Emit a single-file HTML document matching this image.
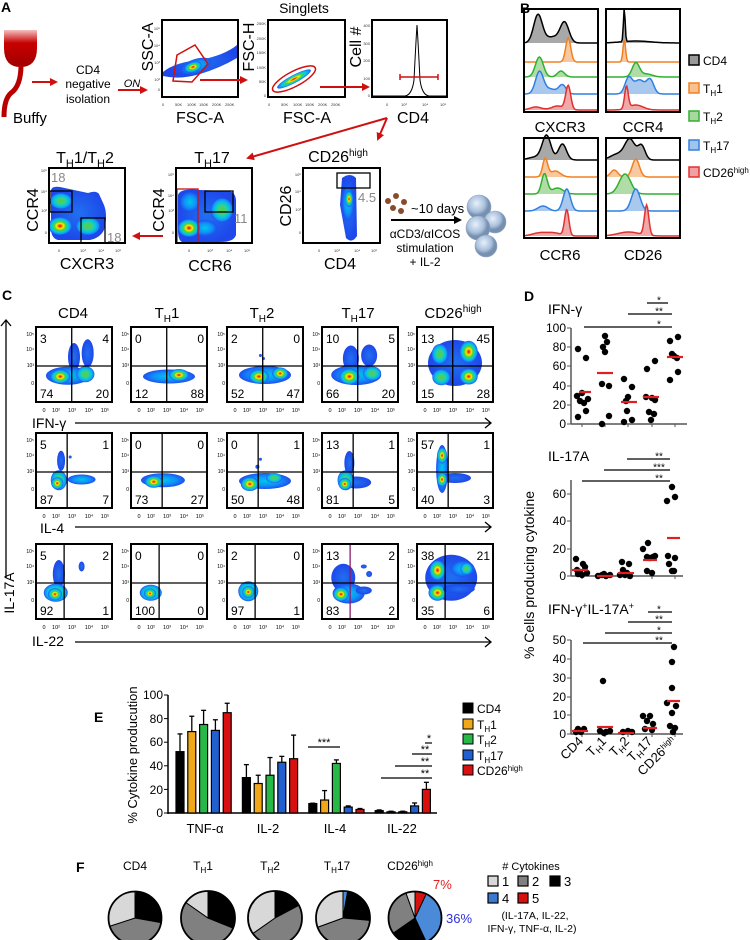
<!DOCTYPE html>
<html><head><meta charset="utf-8">
<style>
html,body{margin:0;padding:0;background:#fff;}
svg{display:block;font-family:"Liberation Sans",Arial,sans-serif;}
</style></head>
<body>
<svg id="s" xmlns="http://www.w3.org/2000/svg" width="750" height="940" viewBox="0 0 750 940">
<defs>
<radialGradient id="hot"><stop offset="0" stop-color="#e00000"/><stop offset=".15" stop-color="#ff7000"/><stop offset=".3" stop-color="#f0f000"/><stop offset=".48" stop-color="#50d040"/><stop offset=".7" stop-color="#00d0d8"/><stop offset=".88" stop-color="#1890f8"/><stop offset="1" stop-color="#1e50ee"/></radialGradient>
<radialGradient id="warm"><stop offset="0" stop-color="#50d040"/><stop offset=".35" stop-color="#40d080"/><stop offset=".65" stop-color="#00c8e0"/><stop offset=".88" stop-color="#1890f8"/><stop offset="1" stop-color="#1e50ee"/></radialGradient>
<radialGradient id="cool"><stop offset="0" stop-color="#00c8e8"/><stop offset=".6" stop-color="#1090f8"/><stop offset="1" stop-color="#1e50ee"/></radialGradient>
<radialGradient id="blue"><stop offset="0" stop-color="#2070f0"/><stop offset="1" stop-color="#1e48ea"/></radialGradient>
<linearGradient id="bag" x1="0" y1="0" x2="0" y2="1"><stop offset="0" stop-color="#f4c0c0"/><stop offset=".35" stop-color="#c80000"/><stop offset="1" stop-color="#a00000"/></linearGradient>
<radialGradient id="cell" cx=".4" cy=".35"><stop offset="0" stop-color="#e8f0fa"/><stop offset=".7" stop-color="#a8c0dc"/><stop offset="1" stop-color="#7890b0"/></radialGradient>
<marker id="ra" markerWidth="8" markerHeight="8" refX="6" refY="4" orient="auto" markerUnits="userSpaceOnUse"><path d="M0,0 L8,4 L0,8 Z" fill="#d01010"/></marker>
<marker id="ba" markerWidth="8" markerHeight="8" refX="6" refY="4" orient="auto" markerUnits="userSpaceOnUse"><path d="M0,0 L8,4 L0,8 Z" fill="#000"/></marker>
</defs>

<g font-weight="bold" font-size="14">
<text x="1" y="12">A</text><text x="520" y="13">B</text><text x="2" y="300">C</text><text x="524" y="301">D</text><text x="94" y="722">E</text><text x="76" y="872">F</text>
</g>

<!-- ============ PANEL A ============ -->
<path d="M4,30 H37 V48 Q37,67 20.5,67 Q4,67 4,48 Z" fill="url(#bag)"/>
<path d="M21,65 Q21,86 11,93 Q4,99 4,117" stroke="#b80000" stroke-width="5" fill="none"/>
<text x="13" y="123" font-size="15">Buffy</text>
<line x1="32" y1="82" x2="56" y2="82" stroke="#d01010" stroke-width="2" marker-end="url(#ra)"/>
<g font-size="12" text-anchor="middle"><text x="88" y="74">CD4</text><text x="88" y="88">negative</text><text x="88" y="103">isolation</text></g>
<text x="132" y="87" font-size="11" font-style="italic" text-anchor="middle">ON</text>
<line x1="118" y1="90" x2="146" y2="90" stroke="#d01010" stroke-width="2" marker-end="url(#ra)"/>
<text x="304" y="13" font-size="14" text-anchor="middle">Singlets</text>
<path d="M163,72 Q175,62 200,60 Q225,55 237,45 L237,58 Q220,68 200,74 Q180,80 163,76 Z" fill="url(#blue)"/>
<ellipse cx="196" cy="66" rx="16" ry="7" transform="rotate(-18 196 66)" fill="url(#cool)"/>
<ellipse cx="193" cy="67" rx="9" ry="5" transform="rotate(-18 193 67)" fill="url(#hot)"/>
<polygon points="177,55 195,45 208,64 192,82 173,81" fill="none" stroke="#d01010" stroke-width="1.5"/>
<rect x="162" y="20" width="76" height="77" fill="none" stroke="#000" stroke-width="2"/>
<ellipse cx="294" cy="79" rx="19" ry="4" transform="rotate(-28 294 79)" fill="url(#hot)"/>
<ellipse cx="294" cy="79" rx="24" ry="7.5" transform="rotate(-28 294 79)" fill="none" stroke="#d01010" stroke-width="1.5"/>
<rect x="268" y="20" width="77" height="77" fill="none" stroke="#000" stroke-width="2"/>
<path d="M372,96 L405,96 Q412,95 414,80 Q416,40 417,25 Q418,40 420,80 Q422,95 429,96 L447,96" fill="none" stroke="#000" stroke-width="1"/>
<line x1="400" y1="77" x2="438" y2="77" stroke="#d01010" stroke-width="1.5"/>
<line x1="400" y1="74" x2="400" y2="80" stroke="#d01010" stroke-width="1.5"/><line x1="438" y1="74" x2="438" y2="80" stroke="#d01010" stroke-width="1.5"/>
<rect x="372" y="20" width="75" height="77" fill="none" stroke="#000" stroke-width="2"/>
<g font-size="4" fill="#333">
<text x="160" y="30" text-anchor="end">10⁵</text><text x="160" y="47" text-anchor="end">10⁴</text><text x="160" y="64" text-anchor="end">10³</text><text x="160" y="81" text-anchor="end">10²</text><text x="160" y="91" text-anchor="end">0</text>
<text x="162" y="106">0</text><text x="175" y="106">50K</text><text x="187" y="106">100K</text><text x="199" y="106">150K</text><text x="212" y="106">200K</text><text x="225" y="106">250K</text>
<text x="266" y="25" text-anchor="end">250K</text><text x="266" y="40" text-anchor="end">200K</text><text x="266" y="54" text-anchor="end">150K</text><text x="266" y="69" text-anchor="end">100K</text><text x="266" y="83" text-anchor="end">50K</text><text x="266" y="97" text-anchor="end">0</text>
<text x="268" y="106">0</text><text x="281" y="106">50K</text><text x="293" y="106">100K</text><text x="305" y="106">150K</text><text x="318" y="106">200K</text><text x="331" y="106">250K</text>
<text x="370" y="27" text-anchor="end">400</text><text x="370" y="45" text-anchor="end">300</text><text x="370" y="62" text-anchor="end">200</text><text x="370" y="80" text-anchor="end">100</text><text x="370" y="97" text-anchor="end">0</text>
<text x="386" y="106">0</text><text x="401" y="106">10³</text><text x="422" y="106">10⁴</text><text x="440" y="106">10⁵</text>
</g>
<g font-size="16">
<text transform="translate(153,47) rotate(-90)" text-anchor="middle">SSC-A</text>
<text transform="translate(254,47) rotate(-90)" text-anchor="middle">FSC-H</text>
<text transform="translate(361,47) rotate(-90)" text-anchor="middle">Cell #</text>
<text x="200" y="123" text-anchor="middle">FSC-A</text><text x="307" y="123" text-anchor="middle">FSC-A</text><text x="413" y="123" text-anchor="middle">CD4</text>
</g>
<line x1="200" y1="80" x2="246" y2="80" stroke="#d01010" stroke-width="2" marker-end="url(#ra)"/>
<line x1="320" y1="87" x2="368" y2="87" stroke="#d01010" stroke-width="2" marker-end="url(#ra)"/>
<line x1="387" y1="118" x2="248" y2="158" stroke="#d01010" stroke-width="2" marker-end="url(#ra)"/>
<line x1="387" y1="118" x2="378" y2="139" stroke="#d01010" stroke-width="2" marker-end="url(#ra)"/>
<g font-size="16" text-anchor="middle">
<text x="85" y="163">T<tspan font-size="11" dy="4">H</tspan><tspan dy="-4">1/T</tspan><tspan font-size="11" dy="4">H</tspan><tspan dy="-4">2</tspan></text>
<text x="212" y="163">T<tspan font-size="11" dy="4">H</tspan><tspan dy="-4">17</tspan></text>
<text x="338" y="162">CD26<tspan font-size="10" dy="-6">high</tspan></text>
<text x="87" y="269">CXCR3</text><text x="210" y="271">CCR6</text><text x="340" y="269">CD4</text>
<text transform="translate(38,210) rotate(-90)">CCR4</text>
<text transform="translate(164,210) rotate(-90)">CCR4</text>
<text transform="translate(291,206) rotate(-90)">CD26</text>
</g>
<!-- TH1/TH2 plot -->
<path d="M51,190 Q52,186 60,187 L88,193 Q96,190 99,194 L104,205 Q108,215 104,230 Q100,238 90,240 L58,240 Q50,238 51,225 Z" fill="url(#blue)"/>
<ellipse cx="61" cy="201" rx="11" ry="8" fill="url(#warm)"/>
<ellipse cx="88" cy="226" rx="12" ry="9" fill="url(#warm)"/>
<ellipse cx="60" cy="226" rx="12" ry="9" fill="url(#hot)"/>
<rect x="50" y="191" width="22" height="21" fill="none" stroke="#000" stroke-width="1.3"/>
<rect x="81" y="218" width="24" height="25" fill="none" stroke="#000" stroke-width="1.3"/>
<rect x="49" y="168" width="76" height="75" fill="none" stroke="#000" stroke-width="2"/>
<!-- TH17 plot -->
<path d="M178,195 Q180,188 200,190 L225,191 Q235,190 236,200 L236,235 Q234,242 220,242 L182,242 Q178,240 178,230 Z" fill="url(#blue)"/>
<ellipse cx="190" cy="202" rx="10" ry="10" fill="url(#cool)"/>
<ellipse cx="222" cy="210" rx="11" ry="12" fill="url(#warm)"/>
<ellipse cx="205" cy="228" rx="12" ry="8" fill="url(#cool)"/>
<ellipse cx="189" cy="228" rx="11" ry="9" fill="url(#hot)"/>
<rect x="177" y="189" width="21" height="54" fill="none" stroke="#d01010" stroke-width="1.3"/>
<rect x="205" y="191" width="28" height="21" fill="none" stroke="#000" stroke-width="1.3"/>
<rect x="176" y="168" width="76" height="75" fill="none" stroke="#000" stroke-width="2"/>
<!-- CD26 plot -->
<path d="M342,178 Q350,172 356,178 L357,236 Q352,244 346,238 L340,205 Z" fill="url(#blue)"/>
<ellipse cx="348" cy="203" rx="6" ry="18" fill="url(#cool)"/>
<ellipse cx="349" cy="199" rx="4" ry="8" fill="url(#hot)"/>
<rect x="337" y="173" width="33" height="15" fill="none" stroke="#000" stroke-width="1.3"/>
<rect x="303" y="168" width="77" height="75" fill="none" stroke="#000" stroke-width="2"/>
<g font-size="13" fill="#888"><text x="51" y="182">18</text><text x="107" y="242">18</text><text x="234" y="223">11</text><text x="358" y="202">4.5</text></g>
<g font-size="4" fill="#333">
<text x="47" y="172" text-anchor="end">10⁵</text><text x="47" y="193" text-anchor="end">10⁴</text><text x="47" y="212" text-anchor="end">10³</text><text x="47" y="234" text-anchor="end">0</text>
<text x="58" y="252">0</text><text x="80" y="252">10³</text><text x="98" y="252">10⁴</text><text x="115" y="252">10⁵</text>
<text x="174" y="176" text-anchor="end">10⁵</text><text x="174" y="197" text-anchor="end">10⁴</text><text x="174" y="212" text-anchor="end">10³</text><text x="174" y="234" text-anchor="end">0</text>
<text x="188" y="252">0</text><text x="207" y="252">10³</text><text x="226" y="252">10⁴</text><text x="244" y="252">10⁵</text>
<text x="301" y="176" text-anchor="end">10⁵</text><text x="301" y="193" text-anchor="end">10⁴</text><text x="301" y="211" text-anchor="end">10³</text><text x="301" y="234" text-anchor="end">0</text>
<text x="318" y="252">0</text><text x="334" y="252">10³</text><text x="354" y="252">10⁴</text><text x="371" y="252">10⁵</text>
</g>
<line x1="163" y1="236" x2="134" y2="236" stroke="#d01010" stroke-width="2" marker-end="url(#ra)"/>
<g fill="#8b4a2b"><circle cx="388" cy="201" r="3"/><circle cx="396" cy="196" r="3"/><circle cx="404" cy="202" r="3"/><circle cx="393" cy="208" r="3"/><circle cx="401" cy="211" r="3"/></g>
<text x="411" y="213" font-size="13">~10 days</text>
<line x1="391" y1="220" x2="460" y2="220" stroke="#000" stroke-width="2" marker-end="url(#ba)"/>
<g font-size="12" text-anchor="middle"><text x="425" y="238">αCD3/αICOS</text><text x="425" y="252">stimulation</text><text x="425" y="266">+ IL-2</text></g>
<g stroke="#8fa4c0" stroke-width=".6"><circle cx="479" cy="207" r="12" fill="url(#cell)"/><circle cx="495" cy="222" r="11" fill="url(#cell)"/><circle cx="478" cy="228" r="12" fill="url(#cell)"/><circle cx="486" cy="246" r="11" fill="url(#cell)"/></g>

<!-- ============ PANEL B ============ -->
<g id="pb"></g>
<g font-size="15" text-anchor="middle"><text x="560" y="132">CXCR3</text><text x="643" y="132">CCR4</text><text x="560" y="260">CCR6</text><text x="643" y="260">CD26</text></g>
<g stroke-width="1.5">
<rect x="689" y="55" width="10" height="10" fill="#999" stroke="#000"/>
<rect x="689" y="83" width="10" height="10" fill="#f8c090" stroke="#f08020"/>
<rect x="689" y="111" width="10" height="10" fill="#a8d8a0" stroke="#30b030"/>
<rect x="689" y="140" width="10" height="10" fill="#a0c4ec" stroke="#3080e0"/>
<rect x="689" y="167" width="10" height="10" fill="#f0a0a0" stroke="#e03030"/>
</g>
<g font-size="12">
<text x="703" y="65">CD4</text>
<text x="703" y="93">T<tspan font-size="8" dy="3">H</tspan><tspan dy="-3">1</tspan></text>
<text x="703" y="121">T<tspan font-size="8" dy="3">H</tspan><tspan dy="-3">2</tspan></text>
<text x="703" y="150">T<tspan font-size="8" dy="3">H</tspan><tspan dy="-3">17</tspan></text>
<text x="703" y="177">CD26<tspan font-size="8" dy="-4">high</tspan></text>
</g>

<!-- ============ PANEL C ============ -->
<g font-size="15" text-anchor="middle">
<text x="73" y="318">CD4</text>
<text x="167" y="318">T<tspan font-size="10" dy="4">H</tspan><tspan dy="-4">1</tspan></text>
<text x="262" y="318">T<tspan font-size="10" dy="4">H</tspan><tspan dy="-4">2</tspan></text>
<text x="358" y="318">T<tspan font-size="10" dy="4">H</tspan><tspan dy="-4">17</tspan></text>
<text x="453" y="318">CD26<tspan font-size="10" dy="-6">high</tspan></text>
</g>
<g id="pc"></g>
<g font-size="14">
<text x="32" y="428">IFN-γ</text><text x="40" y="533">IL-4</text><text x="32" y="646">IL-22</text>
<text transform="translate(14,593) rotate(-90)" text-anchor="middle">IL-17A</text>
</g>
<g stroke="#000" stroke-width="1.3" fill="none">
<line x1="75" y1="423" x2="491" y2="423"/><polyline points="485,418 491,423 485,428"/>
<line x1="75" y1="527" x2="491" y2="527"/><polyline points="485,522 491,527 485,532"/>
<line x1="75" y1="642" x2="491" y2="642"/><polyline points="485,637 491,642 485,647"/>
<line x1="6" y1="320" x2="6" y2="578"/><polyline points="1,326 6,320 11,326"/>
</g>

<!-- ============ PANEL D ============ -->
<g id="pd"></g>
<g font-size="14">
<text x="548" y="314">IFN-γ</text>
<text x="548" y="461">IL-17A</text>
<text x="548" y="614">IFN-γ<tspan font-size="9" dy="-5">+</tspan><tspan dy="5">IL-17A</tspan><tspan font-size="9" dy="-5">+</tspan></text>
</g>
<g font-size="12" text-anchor="end">
<text x="566" y="332">100</text><text x="566" y="351">80</text><text x="566" y="370">60</text><text x="566" y="390">40</text><text x="566" y="409">20</text><text x="566" y="428">0</text>
<text x="566" y="498">60</text><text x="566" y="525">40</text><text x="566" y="553">20</text><text x="566" y="580">0</text>
<text x="566" y="644">50</text><text x="566" y="663">40</text><text x="566" y="682">30</text><text x="566" y="701">20</text><text x="566" y="719">10</text><text x="566" y="738">0</text>
</g>
<text transform="translate(534,575) rotate(-90)" font-size="14" text-anchor="middle">% Cells producing cytokine</text>
<g font-size="13" text-anchor="end">
<text transform="translate(584,742) rotate(-45)">CD4</text>
<text transform="translate(607,742) rotate(-45)">T<tspan font-size="9" dy="3">H</tspan><tspan dy="-3">1</tspan></text>
<text transform="translate(630,742) rotate(-45)">T<tspan font-size="9" dy="3">H</tspan><tspan dy="-3">2</tspan></text>
<text transform="translate(653,742) rotate(-45)">T<tspan font-size="9" dy="3">H</tspan><tspan dy="-3">17</tspan></text>
<text transform="translate(677,742) rotate(-45)">CD26<tspan font-size="8" dy="-4">high</tspan></text>
</g>

<!-- ============ PANEL E ============ -->
<g id="pe"></g>
<g font-size="12" text-anchor="end">
<text x="163" y="699">100</text><text x="163" y="723">80</text><text x="163" y="746">60</text><text x="163" y="770">40</text><text x="163" y="794">20</text><text x="163" y="817">0</text>
</g>
<text transform="translate(137,755) rotate(-90)" font-size="13" text-anchor="middle">%  Cytokine producution</text>
<g font-size="13" text-anchor="middle"><text x="205" y="833">TNF-α</text><text x="268" y="833">IL-2</text><text x="335" y="833">IL-4</text><text x="402" y="833">IL-22</text></g>
<g stroke="#000" stroke-width="1">
<rect x="463" y="703" width="10" height="10" fill="#000"/>
<rect x="463" y="719" width="10" height="10" fill="#f0a818"/>
<rect x="463" y="734" width="10" height="10" fill="#28b848"/>
<rect x="463" y="750" width="10" height="10" fill="#2060d0"/>
<rect x="463" y="765" width="10" height="10" fill="#d81010"/>
</g>
<g font-size="12">
<text x="477" y="713">CD4</text>
<text x="477" y="729">T<tspan font-size="8" dy="3">H</tspan><tspan dy="-3">1</tspan></text>
<text x="477" y="744">T<tspan font-size="8" dy="3">H</tspan><tspan dy="-3">2</tspan></text>
<text x="477" y="760">T<tspan font-size="8" dy="3">H</tspan><tspan dy="-3">17</tspan></text>
<text x="477" y="775">CD26<tspan font-size="8" dy="-4">high</tspan></text>
</g>

<!-- ============ PANEL F ============ -->
<g font-size="12" text-anchor="middle">
<text x="135" y="870">CD4</text>
<text x="203" y="870">T<tspan font-size="8" dy="3">H</tspan><tspan dy="-3">1</tspan></text>
<text x="270" y="870">T<tspan font-size="8" dy="3">H</tspan><tspan dy="-3">2</tspan></text>
<text x="337" y="870">T<tspan font-size="8" dy="3">H</tspan><tspan dy="-3">17</tspan></text>
<text x="410" y="870">CD26<tspan font-size="8" dy="-4">high</tspan></text>
</g>
<g id="pf"></g>
<text x="433" y="889" font-size="13" fill="#e02020">7%</text>
<text x="446" y="923" font-size="13" fill="#3030e0">36%</text>
<text x="531" y="870" font-size="11" text-anchor="middle"># Cytokines</text>
<g stroke="#000" stroke-width="1.2">
<rect x="488" y="876" width="10" height="10" fill="#d8d8d8"/>
<rect x="518" y="876" width="10" height="10" fill="#808080"/>
<rect x="550" y="876" width="10" height="10" fill="#000"/>
<rect x="488" y="893" width="10" height="10" fill="#3a7ad0"/>
<rect x="518" y="893" width="10" height="10" fill="#d81010"/>
</g>
<g font-size="13"><text x="502" y="886">1</text><text x="532" y="886">2</text><text x="564" y="886">3</text><text x="502" y="903">4</text><text x="532" y="903">5</text></g>
<g font-size="10.5" text-anchor="middle"><text x="535" y="919">(IL-17A, IL-22,</text><text x="532" y="932">IFN-γ, TNF-α, IL-2)</text></g>

<script>
const NS='http://www.w3.org/2000/svg';
function E(t,a,txt,p){const e=document.createElementNS(NS,t);for(const k in a)e.setAttribute(k,a[k]);if(txt!=null)e.textContent=txt;p.appendChild(e);return e;}

const PB=document.getElementById('pb');
const cols={k:['#000','#a8a8a8'],o:['#f08020','#f8c8a0'],g:['#30b030','#b0dca8'],b:['#3080e0','#a8c8ee'],r:['#e03030','#f0a8a8']};
function hist(x0,w,base,peaks,c){let pts=[];for(let i=0;i<=80;i++){const f=i/80;let v=0;for(const p of peaks)v+=p[1]*Math.exp(-Math.pow(f-p[0],2)/(2*p[2]*p[2]));pts.push([x0+f*w,base-v]);}
 let d='M'+x0+','+base+' '+pts.map(p=>'L'+p[0].toFixed(1)+','+p[1].toFixed(1)).join(' ')+' L'+(x0+w)+','+base+' Z';
 E('path',{d:d,fill:cols[c][1],stroke:'none'},null,PB);
 E('polyline',{points:pts.map(p=>p[0].toFixed(1)+','+p[1].toFixed(1)).join(' '),fill:'none',stroke:cols[c][0],'stroke-width':1.5},null,PB);}
const boxes=[
 {x:524,y:9,h:103,bases:[43,62,77,94,110],tr:[
  [[.18,28,.06],[.55,20,.06],[.38,6,.1]],[[.6,24,.035]],[[.2,20,.055],[.5,6,.05]],[[.2,22,.055],[.52,9,.05],[.35,5,.08]],[[.6,24,.035],[.15,3,.08],[.45,4,.08]]]},
 {x:606,y:9,h:103,bases:[43,62,77,94,110],tr:[
  [[.24,33,.012],[.4,2,.2]],[[.24,22,.018]],[[.4,14,.05],[.55,3,.08]],[[.3,16,.05],[.45,14,.07],[.6,14,.05]],[[.27,22,.025],[.4,5,.1]]]},
 {x:524,y:138,h:100,bases:[160,177,194,211,236],tr:[
  [[.3,24,.06],[.52,16,.055],[.15,3,.1]],[[.28,18,.035],[.42,6,.07]],[[.27,20,.04],[.45,6,.08]],[[.58,22,.05],[.25,5,.07]],[[.58,26,.03],[.2,3,.1],[.4,3,.1]]]},
 {x:606,y:138,h:100,bases:[160,177,194,211,236],tr:[
  [[.32,20,.07],[.48,14,.05],[.15,6,.1]],[[.4,18,.05],[.1,7,.05]],[[.25,20,.08]],[[.4,22,.06]],[[.55,30,.03],[.3,4,.15]]]}];
for(const b of boxes){const ks=['k','o','g','b','r'];b.tr.forEach((pk,i)=>hist(b.x+1,72,b.bases[i],pk,ks[i]));
 E('rect',{x:b.x,y:b.y,width:74,height:b.h,fill:'none',stroke:'#000','stroke-width':2},null,PB);}

const PC=document.getElementById('pc');
const cx=[36,131,227,322,417],ry=[327,433,544],W=76,H=75,vf=[.47,.41,.37];
const nums=[[[3,4,74,20],[0,0,12,88],[2,0,52,47],[10,5,66,20],[13,45,15,28]],
[[5,1,87,7],[0,0,73,27],[0,1,50,48],[13,1,81,5],[57,1,40,3]],
[[5,2,92,1],[0,0,100,0],[2,0,97,1],[13,2,83,2],[38,21,35,6]]];
const B=[
[[[.5,.4,6,14,'blue'],[.68,.35,6,14,'blue'],[.42,.65,22,9,'cool'],[.65,.63,9,8,'warm'],[.32,.66,10,7,'hot']],
 [[.5,.66,26,7,'cool'],[.63,.64,10,6,'hot']],
 [[.5,.64,26,9,'cool'],[.42,.66,10,7,'hot'],[.7,.62,8,6,'hot'],[.44,.38,1.5,1.5,'blue'],[.48,.42,1.5,1.5,'blue']],
 [[.38,.42,8,13,'blue'],[.62,.38,8,11,'blue'],[.45,.64,25,10,'cool'],[.66,.62,9,7,'warm'],[.36,.66,10,8,'hot']],
 [[.5,.48,27,23,'blue'],[.3,.36,8,10,'warm'],[.68,.33,9,11,'hot'],[.32,.67,9,8,'warm'],[.68,.66,9,8,'hot']]],
[[[.33,.37,4,10,'blue'],[.6,.62,14,5,'cool'],[.3,.63,8,10,'warm'],[.28,.67,6,6,'hot'],[.45,.32,1.5,1.5,'blue']],
 [[.42,.63,22,7,'cool'],[.3,.65,9,6,'hot']],
 [[.5,.64,26,8,'cool'],[.3,.68,9,7,'hot'],[.62,.6,8,5,'warm'],[.4,.45,2,2,'blue'],[.44,.35,1.5,1.5,'blue']],
 [[.36,.4,5,12,'blue'],[.45,.66,15,6,'blue'],[.31,.63,8,10,'warm'],[.3,.68,6,6,'hot']],
 [[.33,.48,6,24,'cool'],[.5,.6,16,5,'blue'],[.33,.3,5,8,'hot'],[.33,.62,5,7,'hot']]],
[[[.3,.4,6,14,'blue'],[.26,.65,12,9,'warm'],[.25,.67,7,6,'hot'],[.6,.3,3,5,'blue']],
 [[.26,.65,11,8,'warm'],[.25,.66,6,5,'hot']],
 [[.28,.63,10,10,'warm'],[.28,.64,6,6,'hot']],
 [[.28,.45,12,14,'blue'],[.35,.66,16,10,'cool'],[.25,.67,8,7,'hot'],[.55,.62,8,4,'blue'],[.62,.4,3,3,'blue'],[.55,.3,3,2,'blue']],
 [[.45,.45,26,23,'blue'],[.6,.33,12,8,'cool'],[.65,.33,6,6,'warm'],[.27,.35,8,10,'hot'],[.27,.65,9,8,'hot'],[.55,.6,16,5,'blue']]]];
for(let r=0;r<3;r++)for(let c=0;c<5;c++){const x=cx[c],y=ry[r];
 for(const b of B[r][c])E('ellipse',{cx:x+b[0]*W,cy:y+b[1]*H,rx:b[2],ry:b[3],fill:'url(#'+b[4]+')'},null,PC);
 const vx=x+vf[r]*W,hy=y+.52*H;
 E('line',{x1:vx,y1:y,x2:vx,y2:y+H,stroke:(r==2&&c==3)?'#8b1a6b':'#000','stroke-width':1.3},null,PC);
 E('line',{x1:x,y1:hy,x2:x+W,y2:hy,stroke:'#000','stroke-width':1.3},null,PC);
 E('rect',{x:x,y:y,width:W,height:H,fill:'none',stroke:'#000','stroke-width':2},null,PC);
 const n=nums[r][c];
 E('text',{x:x+4,y:y+16,'font-size':12},n[0],PC);
 E('text',{x:x+W-3,y:y+16,'font-size':12,'text-anchor':'end'},n[1],PC);
 E('text',{x:x+4,y:y+H-4,'font-size':12},n[2],PC);
 E('text',{x:x+W-3,y:y+H-4,'font-size':12,'text-anchor':'end'},n[3],PC);
 [['10⁵',9],['10⁴',24],['10³',40],['0',58]].forEach(t=>E('text',{x:x-2,y:y+t[1],'font-size':5,'text-anchor':'end'},t[0],PC));
 [['0',8],['10²',20],['10³',36],['10⁴',53],['10⁵',69]].forEach(t=>E('text',{x:x+t[1],y:y+H+10,'font-size':5.5,'text-anchor':'middle'},t[0],PC));
}

const PD=document.getElementById('pd');
function L(x1,y1,x2,y2,s,w,p){E('line',{x1:x1,y1:y1,x2:x2,y2:y2,stroke:s,'stroke-width':w},null,p);}
const axes=[[328,424,687],[480,576,683],[640,734,683]];
const colx=[582,605,628,652,675];
for(const a of axes){L(571,a[0],571,a[1],'#555',1.5,PD);L(571,a[1],a[2],a[1],'#555',1.5,PD);for(const c of colx)L(c,a[1],c,a[1]+3,'#555',1,PD);}
function ticksY(vals,p){for(const v of vals)L(567,v,571,v,'#555',1,p);}
ticksY([328,347,366,386,405,424],PD);ticksY([494,521,549,576],PD);ticksY([640,659,678,697,715,734],PD);
const dots=[[578,349],[586,358],[577,396],[582,393],[580,401],[584,403],[588,399],[586,411],[578,417],[605,336],[607,342],[603,347],[605,352],[602,384],[609,386],[609,416],[602,424],[624,379],[632,387],[628,397],[626,401],[627,411],[624,422],[632,420],[647,369],[655,361],[646,397],[652,398],[655,400],[649,412],[654,414],[651,420],[670,341],[678,337],[672,354],[677,358],[674,356],[670,380],[678,372],
[576,559],[583,564],[585,567],[577,570],[580,572],[578,574],[582,575],[587,573],[598,576],[602,575],[606,576],[610,575],[604,574],[622,562],[629,564],[623,570],[627,573],[620,575],[630,576],[625,575],[643,549],[648,543],[647,557],[653,557],[655,556],[647,571],[652,573],[650,558],[672,487],[667,501],[675,497],[668,556],[675,558],[669,564],[672,571],[674,571],
[578,729],[584,729],[576,732],[581,732],[603,681],[600,731],[606,732],[610,731],[604,733],[623,732],[628,731],[632,732],[643,716],[650,716],[647,721],[653,724],[645,729],[652,730],[674,647],[672,662],[672,688],[667,703],[676,706],[672,713],[670,726],[675,728],[673,732]];
for(const d of dots)E('circle',{cx:d[0],cy:d[1],r:3.2,fill:'#000'},null,PD);
const med=[[579,591,392],[597,613,373],[621,637,402],[643,659,397],[667,683,357],[572,588,570],[597,613,576],[618,634,573],[643,657,560],[667,680,538],[572,588,731],[597,613,727],[618,634,733],[643,657,728],[667,680,701]];
for(const m of med)L(m[0],m[2],m[1],m[2],'#e02020',2.2,PD);
const sig=[[647,668,303,'*'],[628,672,314,'**'],[584,672,327,'*'],[627,670,459,'**'],[604,670,470,'***'],[582,670,481,'**'],[648,672,612,'*'],[628,672,622,'**'],[605,672,633,'*'],[583,672,643,'**']];
for(const s of sig){L(s[0],s[2],s[1],s[2],'#000',1.2,PD);E('text',{x:659,y:s[2]+0.5,'font-size':10,'text-anchor':'middle'},s[3],PD);}

const PE=document.getElementById('pe');
const yv=v=>813-v*1.18;
L(168,695,168,814,'#000',1.5,PE);L(168,813,437,813,'#000',1.5,PE);
for(const v of [0,20,40,60,80,100])L(164,yv(v),168,yv(v),'#000',1,PE);
const bc=['#000','#f0a818','#28b848','#2060d0','#d81010'];
const vals=[[[52,15],[69,13],[75,12],[70,9],[85,8]],[[30,11],[25,7],[32,15],[43,5],[46,20]],[[8,0.3],[11,8],[42,3],[5,1],[3,0.8]],[[2,0.6],[1,0.5],[1,0.5],[6,2.5],[20,6]]];
vals.forEach((g,gi)=>g.forEach((b,bi)=>{const x=176+gi*66.4+bi*11.8,y=yv(b[0]);const ye=yv(b[0]+b[1]);
 L(x+4,y,x+4,ye,'#000',1.3,PE);L(x+1.5,ye,x+6.5,ye,'#000',1.3,PE);
 E('rect',{x:x,y:y,width:8,height:813-y,fill:bc[bi],stroke:'#000','stroke-width':1.2},null,PE);}));
const es=[[308,340,747,'***',324],[425,432,743,'*',429],[412,432,754,'**',425],[395,432,766,'**',425],[381,432,778,'**',425]];
for(const s of es){L(s[0],s[2],s[1],s[2],'#000',1.2,PE);E('text',{x:s[4],y:s[2]-1,'font-size':11,'text-anchor':'middle'},s[3],PE);}

const PF=document.getElementById('pf');
const pc={l:'#d8d8d8',g:'#808080',k:'#000',b:'#4a8ad8',r:'#d81010'};
function pie(x,y,r,sl){for(const s of sl){const a0=(s[0]-90)*Math.PI/180,a1=(s[1]-90)*Math.PI/180;const big=(s[1]-s[0])>180?1:0;
 E('path',{d:`M${x},${y} L${x+r*Math.cos(a0)},${y+r*Math.sin(a0)} A${r},${r} 0 ${big} 1 ${x+r*Math.cos(a1)},${y+r*Math.sin(a1)} Z`,fill:pc[s[2]],stroke:'#000','stroke-width':1},null,PF);}
 E('circle',{cx:x,cy:y,r:r,fill:'none',stroke:'#000','stroke-width':1.8},null,PF);}
pie(135,918,26.5,[[0,3,'b'],[3,100,'k'],[100,252,'g'],[252,360,'l']]);
pie(208,918,27,[[0,112,'k'],[112,305,'g'],[305,360,'l']]);
pie(275,918,27,[[0,62,'k'],[62,235,'g'],[235,360,'l']]);
pie(343,918,27,[[0,10,'b'],[10,95,'k'],[95,250,'g'],[250,360,'l']]);
pie(415,918,26.5,[[0,25,'r'],[25,155,'b'],[155,235,'k'],[235,340,'g'],[340,360,'l']]);
</script>
</svg>
</body></html>
